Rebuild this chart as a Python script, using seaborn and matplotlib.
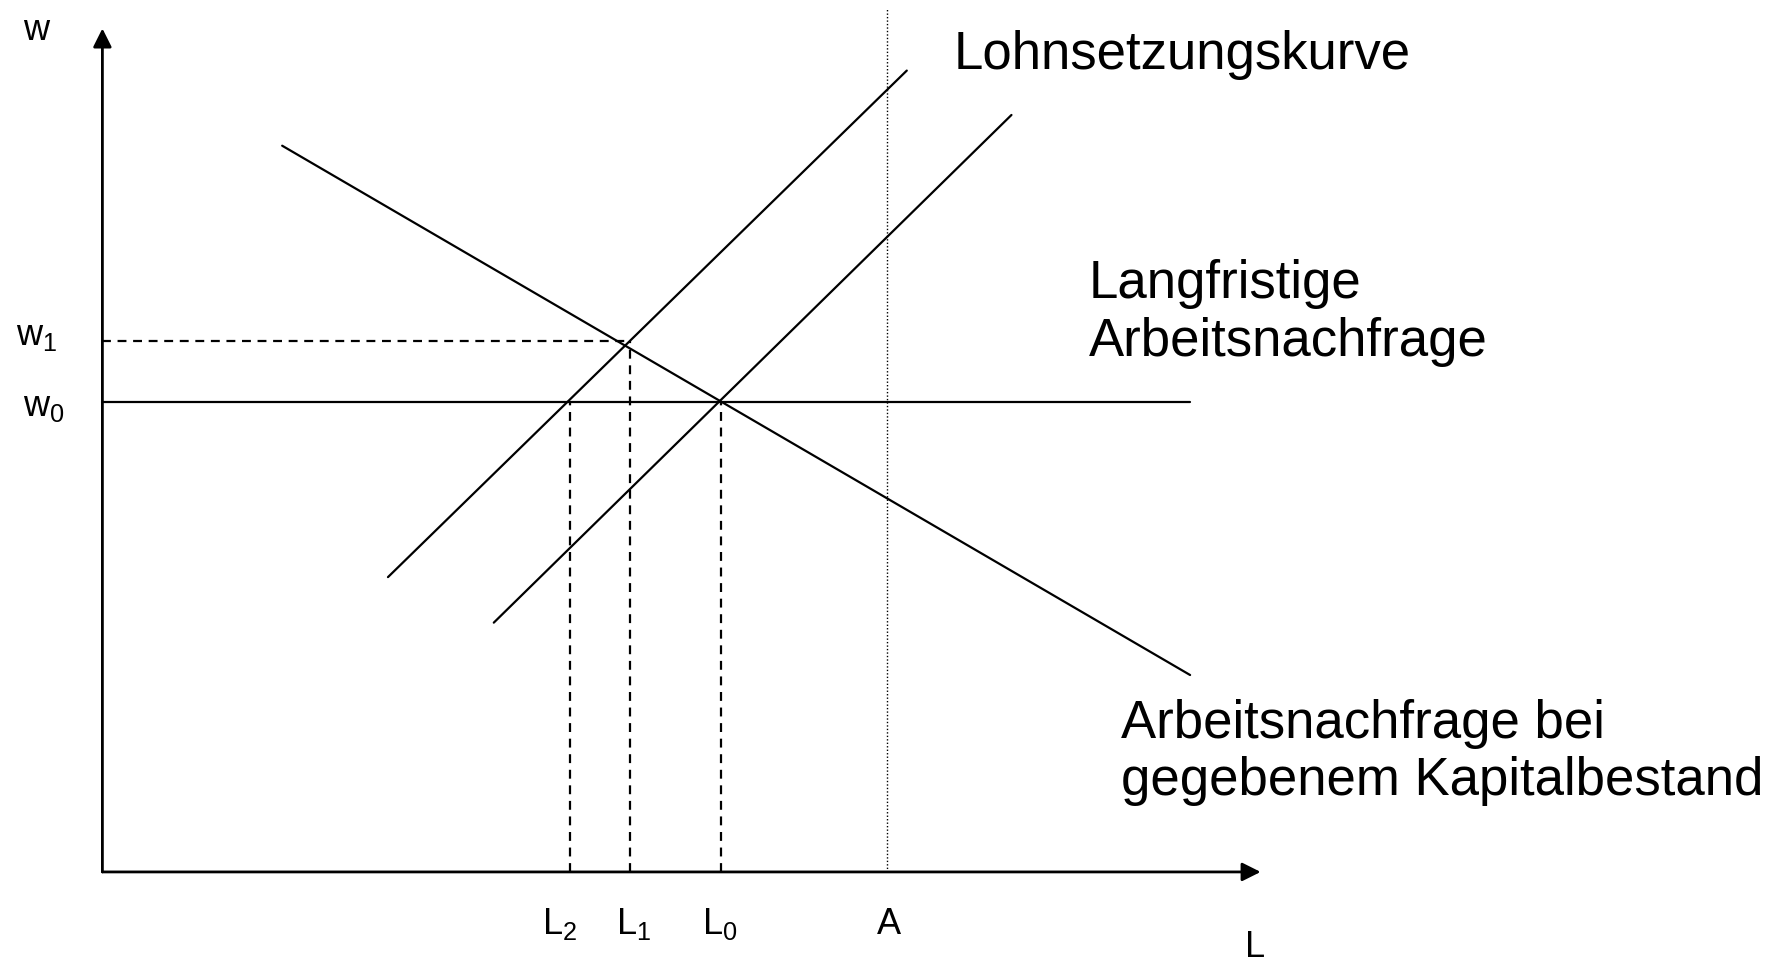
import pandas as pd
import matplotlib
matplotlib.use('Agg')
import matplotlib.pyplot as plt
import seaborn as sns

#---- Werte aus der Grafik (Einheiten: frei gewaehlt)
w0 = 4.13
w1 = 4.66
L2 = 4.11
L1 = 4.64
L0 = 5.44
A = 6.90

nachfrage_x = [1.58, 9.56]          # Arbeitsnachfrage bei gegebenem Kapitalbestand
nachfrage_y = [6.38, 1.73]
lohn1_x = [2.51, 7.07]              # Lohnsetzungskurve (verschoben)
lohn1_y = [2.59, 7.04]
lohn2_x = [3.44, 7.99]              # Lohnsetzungskurve
lohn2_y = [2.19, 6.65]
langfr_x = [0.0, 9.56]              # Langfristige Arbeitsnachfrage
langfr_y = [w0, w0]

x_achse_ende = 10.18
y_achse_ende = 7.41
A_oben = 7.58

tick_labels = [r'$\mathregular{L_2}$', r'$\mathregular{L_1}$', r'$\mathregular{L_0}$', 'A']
tick_pos = [4.02, 4.67, 5.43, 6.91]

sns.set_theme(style='white')
plt.rcParams['font.family'] = ['Liberation Sans', 'DejaVu Sans']
plt.rcParams['text.color'] = 'black'

fig = plt.figure(figsize=(17.84, 9.63), dpi=100)
ax = fig.add_axes([0, 0, 1, 1])
ax.set_xlim(-0.90, 14.78)
ax.set_ylim(-0.80, 7.66)
ax.axis('off')

lw = 1.6
kw = dict(color='black', sort=False, legend=False, estimator=None, ax=ax)

#---- Kurven
sns.lineplot(x=nachfrage_x, y=nachfrage_y, linewidth=lw, **kw)
sns.lineplot(x=lohn1_x, y=lohn1_y, linewidth=lw, **kw)
sns.lineplot(x=lohn2_x, y=lohn2_y, linewidth=lw, **kw)
sns.lineplot(x=langfr_x, y=langfr_y, linewidth=lw, **kw)

#---- Hilfslinien
sns.lineplot(x=[0, L1], y=[w1, w1], linewidth=lw, linestyle=(0, (4, 3)), **kw)
for xv, yv in [(L2, w0), (L1, w1), (L0, w0)]:
    sns.lineplot(x=[xv, xv], y=[0, yv], linewidth=lw, linestyle=(0, (4, 3)), **kw)
sns.lineplot(x=[A, A], y=[0, A_oben], linewidth=1.0, linestyle=(0, (1, 1.5)), **kw)

#---- Achsen mit Pfeilen
arrow = dict(arrowstyle='-|>', color='black', lw=2.0, mutation_scale=28, shrinkA=0, shrinkB=0)
ax.annotate('', xy=(x_achse_ende, 0), xytext=(0, 0), arrowprops=arrow)
ax.annotate('', xy=(0, y_achse_ende), xytext=(0, 0), arrowprops=arrow)

#---- Beschriftungen
fs_ax = 26
ax.text(-0.58, 7.39, 'w', fontsize=fs_ax, ha='center', va='center')
ax.text(-0.76, 4.71, r'$\mathregular{w_1}$', fontsize=fs_ax, ha='left', va='center')
ax.text(-0.70, 4.09, r'$\mathregular{w_0}$', fontsize=fs_ax, ha='left', va='center')
for lab, xp in zip(tick_labels, tick_pos):
    ax.text(xp, -0.46, lab, fontsize=fs_ax, ha='center', va='center')
ax.text(10.13, -0.66, 'L', fontsize=fs_ax, ha='center', va='center')

fs = 38
ax.text(7.48, 7.18, 'Lohnsetzungskurve', fontsize=fs, ha='left', va='center')
ax.text(8.67, 4.91, 'Langfristige\nArbeitsnachfrage', fontsize=fs, ha='left', va='center')
ax.text(8.95, 1.05, 'Arbeitsnachfrage bei\ngegebenem Kapitalbestand', fontsize=fs, ha='left', va='center')

fig.savefig('out.png', dpi=100)
